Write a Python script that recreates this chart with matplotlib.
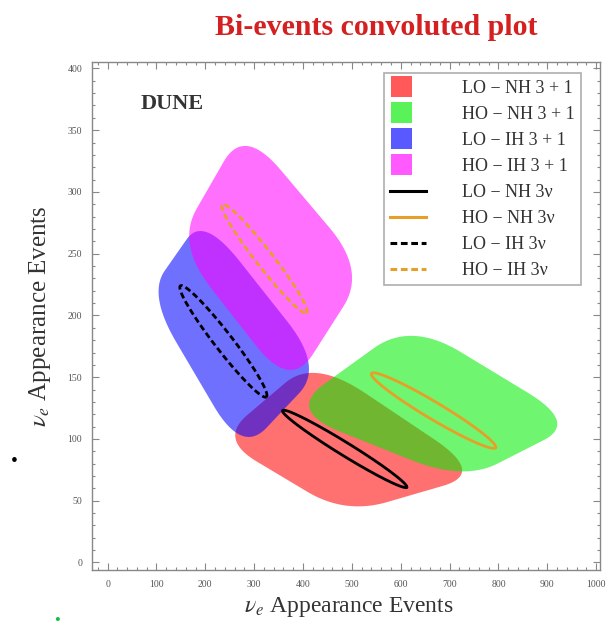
import numpy as np
import matplotlib

matplotlib.use("Agg")
import matplotlib.pyplot as plt
from matplotlib.patches import Polygon, Rectangle, Patch
from matplotlib.lines import Line2D
from matplotlib.legend_handler import HandlerPatch
from matplotlib.ticker import MultipleLocator

plt.rcParams["font.family"] = ["Liberation Serif", "DejaVu Serif"]
plt.rcParams["mathtext.fontset"] = "stix"

# 3+1 allowed regions: corner points (nu_e events, nu_e-bar events), rounded when drawn
region_names = ["LO \u2212 NH 3 + 1", "HO \u2212 NH 3 + 1", "LO \u2212 IH 3 + 1", "HO \u2212 IH 3 + 1"]
region_x = [
    [228, 422, 773, 486],
    [368, 620, 962, 728],
    [83, 196, 442, 275],
    [141, 279, 529, 374],
]
region_y = [
    [100, 165, 72, 39],
    [123, 195, 113, 66],
    [217, 281, 158, 88],
    [258, 353, 236, 140],
]
region_colors = ["#ff0000", "#00ee00", "#0000ff", "#ff00ff"]

# 3nu contours: centre, semi-major and semi-minor vectors
contour_names = ["LO \u2212 NH 3\u03bd", "HO \u2212 NH 3\u03bd", "LO \u2212 IH 3\u03bd", "HO \u2212 IH 3\u03bd"]
ell_cx = [485, 667, 237, 321]
ell_cy = [92, 123, 179, 246]
ell_ax = [127, 127, 88, 86.5]
ell_ay = [-31, -30, -45, -44]
ell_bx = [-7, -9, 14.5, 13.7]
ell_by = [-4.5, -5.9, 4.4, 4.2]
contour_colors = ["black", "#e6a02a", "black", "#e6a02a"]
contour_styles = ["-", "-", (0, (2.2, 1.2)), (0, (2.2, 1.2))]


def rounded_outline(xs, ys, frac=0.3, n=24):
    pts = np.column_stack([xs, ys]).astype(float)
    out = []
    k = len(pts)
    t = np.linspace(0, 1, n)[:, None]
    for i in range(k):
        prev, c, nxt = pts[i - 1], pts[i], pts[(i + 1) % k]
        p0 = c + frac * (prev - c)
        p2 = c + frac * (nxt - c)
        out.append((1 - t) ** 2 * p0 + 2 * (1 - t) * t * c + t ** 2 * p2)
    return np.vstack(out)


def square_patch(legend, orig_handle, xdescent, ydescent, width, height, fontsize):
    s = 1.6 * height
    return Rectangle((-xdescent + 1, -ydescent + height / 2 - s / 2), s, s)


fig = plt.figure(figsize=(6.13, 6.29), dpi=100)
ax = fig.add_axes([0.150, 0.094, 0.829, 0.807])

for xs, ys, col in zip(region_x, region_y, region_colors):
    ax.add_patch(Polygon(rounded_outline(xs, ys), closed=True, facecolor=col,
                         edgecolor="none", alpha=0.56))

t = np.linspace(0, 2 * np.pi, 300)
for i in range(len(ell_cx)):
    ex = ell_cx[i] + ell_ax[i] * np.cos(t) + ell_bx[i] * np.sin(t)
    ey = ell_cy[i] + ell_ay[i] * np.cos(t) + ell_by[i] * np.sin(t)
    ax.plot(ex, ey, color=contour_colors[i], linestyle=contour_styles[i], lw=2.0)

ax.set_xlim(-32, 1008)
ax.set_ylim(-6, 405)
ax.xaxis.set_major_locator(MultipleLocator(100))
ax.xaxis.set_minor_locator(MultipleLocator(20))
ax.yaxis.set_major_locator(MultipleLocator(50))
ax.yaxis.set_minor_locator(MultipleLocator(10))
ax.tick_params(which="both", direction="in", top=True, right=True,
               color="#888888", labelsize=7, labelcolor="#555555", width=0.8)
ax.tick_params(which="major", length=5, pad=7)
ax.tick_params(which="minor", length=2.5)
for s in ax.spines.values():
    s.set_color("#888888")
    s.set_linewidth(1.0)

ax.set_xlabel(r"$\nu_e$ Appearance Events", fontsize=17, color="#333333", va="center")
ax.set_ylabel(r"$\nu_e$ Appearance Events", fontsize=18, color="#333333", va="center")
ax.xaxis.set_label_coords(0.506, -0.074)
ax.yaxis.set_label_coords(-0.102, 0.5)

ax.text(67, 371, "DUNE", fontsize=16, fontweight="bold", color="#333333",
        va="center", ha="left")

handles = [Patch(facecolor=c, alpha=0.65, edgecolor="none") for c in region_colors]
handles += [Line2D([], [], color=c, linestyle=ls, lw=2.2)
            for c, ls in zip(contour_colors, contour_styles)]
labels = region_names + contour_names
leg = ax.legend(handles, labels, loc="upper right", bbox_to_anchor=(0.963, 0.978),
                fontsize=13, frameon=True, fancybox=False, edgecolor="#999999",
                handlelength=2.0, handletextpad=2.0, labelspacing=0.5,
                borderpad=0.35, borderaxespad=0.0,
                handler_map={Patch: HandlerPatch(patch_func=square_patch)})
leg.get_frame().set_linewidth(1.2)
for txt in leg.get_texts():
    txt.set_color("#333333")

fig.text(0.613, 0.957, "Bi-events convoluted plot", color="#d42020",
         fontsize=21.5, fontweight="bold", ha="center", va="center")

# stray bullet marks beside the frame
fig.text(0.024, 0.267, "\u2022", color="black", fontsize=14, ha="center", va="center")
fig.text(0.093, 0.012, "\u2022", color="#10c040", fontsize=12, ha="center", va="center")

fig.savefig("out.png", dpi=100)
